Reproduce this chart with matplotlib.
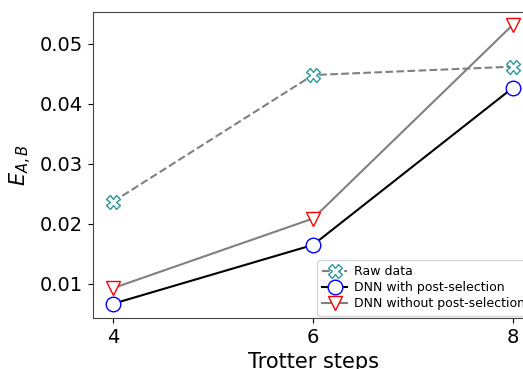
import matplotlib
matplotlib.use("Agg")
import matplotlib.pyplot as plt

steps = [4, 6, 8]
raw_data = [0.0237, 0.0448, 0.0462]
dnn_post = [0.0067, 0.0165, 0.0427]
dnn_nopost = [0.0093, 0.0209, 0.0532]
xtick_labels = ["4", "6", "8"]
ytick_vals = [0.01, 0.02, 0.03, 0.04, 0.05]

W, H = 523, 369
fig = plt.figure(figsize=(W/100, H/100), dpi=100)
ax = fig.add_axes([93/W, (H-318)/H, (533-93)/W, (318-12)/H])

ax.plot(steps, raw_data, linestyle="--", color="gray", marker="X", markersize=10,
        markerfacecolor="white", markeredgecolor="#2a9a9a", markeredgewidth=1.0, label="Raw data")
ax.plot(steps, dnn_post, linestyle="-", color="black", marker="o", markersize=10.5,
        markerfacecolor="white", markeredgecolor="blue", markeredgewidth=1.0, label="DNN with post-selection")
ax.plot(steps, dnn_nopost, linestyle="-", color="gray", marker="v", markersize=10.5,
        markerfacecolor="white", markeredgecolor="red", markeredgewidth=1.0, label="DNN without post-selection")

ax.set_xlim(3.8, 8.2)
ax.set_ylim(0.00433, 0.0553)
ax.set_xticks(steps)
ax.set_xticklabels(xtick_labels)
ax.set_yticks(ytick_vals)
ax.set_yticklabels([f"{v:.2f}" for v in ytick_vals])
ax.tick_params(labelsize=14)
ax.set_xlabel("Trotter steps", fontsize=15)
ax.set_ylabel(r"$E_{A,B}$", fontsize=15)
for s in ax.spines.values():
    s.set_color("#444444")
ax.legend(loc="lower right", fontsize=9, bbox_to_anchor=(1.0, 0.0), borderaxespad=0.2,
          handletextpad=0.6, labelspacing=0.25)

fig.savefig("out.png", dpi=100)
